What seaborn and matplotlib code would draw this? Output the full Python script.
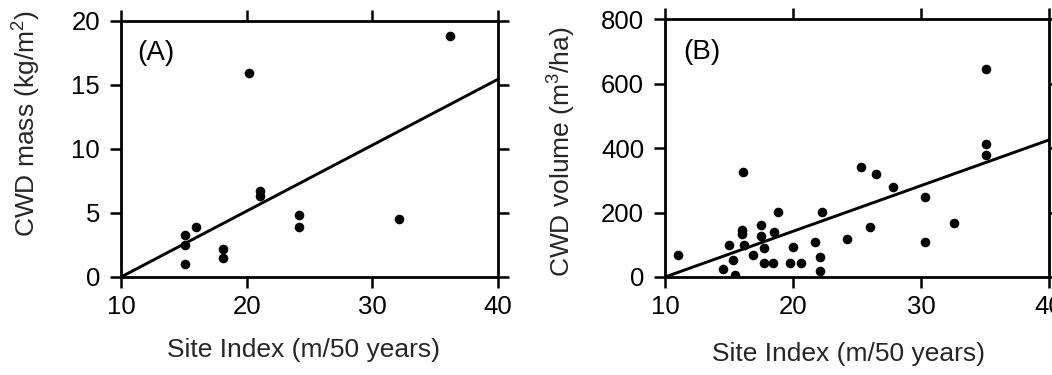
import matplotlib
matplotlib.use("Agg")
import matplotlib.pyplot as plt
import seaborn as sns
import numpy as np
import pandas as pd

# ---- data ----
site_a = [15.1, 15.1, 16.0, 15.1, 18.1, 18.1, 24.2, 24.2, 21.1, 21.1, 20.2, 32.1, 36.2]
mass_a = [3.3, 2.5, 3.9, 1.0, 2.2, 1.5, 4.86, 3.9, 6.7, 6.3, 15.95, 4.5, 18.8]

site_b = [11.0, 16.1, 18.8, 22.3, 17.5, 16.0, 16.0, 17.5, 18.5, 15.0, 16.2, 17.7,
          21.75, 20.0, 16.9, 15.3, 17.7, 18.4, 19.8, 20.6, 22.1, 14.5, 15.5, 22.1,
          24.2, 25.3, 26.0, 26.5, 27.85, 30.35, 30.35, 32.6, 35.1, 35.1, 35.1]
vol_b = [67, 326, 202, 202, 160, 146, 133, 127, 140, 100, 100, 90,
         108, 94, 67, 53, 44, 44, 44, 42, 63, 24, 5, 20,
         119, 340, 156, 319, 278, 249, 108, 168, 644, 412, 379]

fit_x = [10, 40]
fit_a = [0.0, 15.45]
fit_b = [0.0, 425.0]

xticks = [10, 20, 30, 40]
yticks_a = [0, 5, 10, 15, 20]
yticks_b = [0, 200, 400, 600, 800]

sns.set_theme(style="white")
plt.rcParams['font.family'] = ['Liberation Sans', 'DejaVu Sans']
plt.rcParams['mathtext.default'] = 'regular'

fig = plt.figure(figsize=(10.52, 3.75), dpi=100)
W, H = 1052, 375
axA = fig.add_axes([121 / W, 1 - 277 / H, (498 - 121) / W, (277 - 21) / H])
axB = fig.add_axes([665 / W, 1 - 277 / H, (1049 - 665) / W, (277 - 19) / H])

dfA = pd.DataFrame({"x": site_a, "y": mass_a})
dfB = pd.DataFrame({"x": site_b, "y": vol_b})
fA = pd.DataFrame({"x": fit_x, "y": fit_a})
fB = pd.DataFrame({"x": fit_x, "y": fit_b})

panels = [
    (axA, dfA, fA, yticks_a, (0, 20), "CWD mass (kg/m$^2$)", "(A)", (-0.207, 0.60), (0.485, -0.238), (0.042, 0.875)),
    (axB, dfB, fB, yticks_b, (0, 800), "CWD volume (m$^3$/ha)", "(B)", (-0.227, 0.486), (0.479, -0.252), (0.047, 0.872)),
]

for ax, df, fit, yt, ylim, ylab, tag, ylc, xlc, tagpos in panels:
    sns.scatterplot(data=df, x="x", y="y", ax=ax, color="black", s=48,
                    edgecolor="black", linewidth=0, legend=False, zorder=3)
    sns.lineplot(data=fit, x="x", y="y", ax=ax, color="black", linewidth=2.1,
                 legend=False, zorder=2)
    ax.set_xlim(10, 40)
    ax.set_ylim(*ylim)
    ax.set_xticks(xticks)
    ax.set_yticks(yt)
    ax.set_xlabel("Site Index (m/50 years)", fontsize=19)
    ax.set_ylabel(ylab, fontsize=19)
    ax.xaxis.set_label_coords(*xlc)
    ax.yaxis.set_label_coords(*ylc)
    for sp in ax.spines.values():
        sp.set_visible(True)
        sp.set_color("black")
        sp.set_linewidth(2.0)
    ax.tick_params(axis="both", which="major", direction="out", length=8, width=1.8,
                   color="black", labelsize=18.5, labelcolor="black",
                   top=True, right=True, bottom=True, left=True,
                   labeltop=False, labelright=False)
    ax.tick_params(axis="x", pad=5)
    ax.tick_params(axis="y", pad=7)
    ax.text(tagpos[0], tagpos[1], tag, transform=ax.transAxes, fontsize=20,
            ha="left", va="center", color="black")
    ax.set_facecolor("white")

fig.savefig("out.png", dpi=100, facecolor="white")
